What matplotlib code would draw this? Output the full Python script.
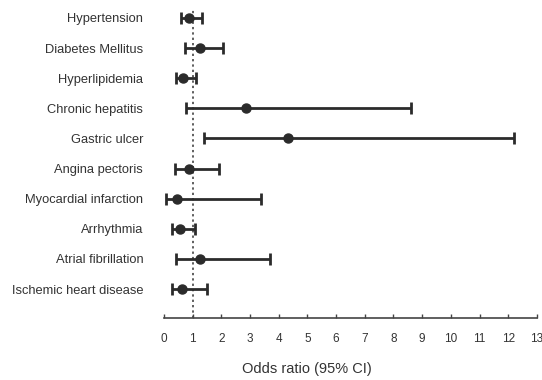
import matplotlib.pyplot as plt

plt.rcParams['font.family'] = ['Liberation Sans', 'DejaVu Sans']

# data (odds ratio with 95% CI)
conditions = ["Hypertension", "Diabetes Mellitus", "Hyperlipidemia",
              "Chronic hepatitis", "Gastric ulcer", "Angina pectoris",
              "Myocardial infarction", "Arrhythmia", "Atrial fibrillation",
              "Ischemic heart disease"]
odds = [0.87, 1.25, 0.67, 2.85, 4.33, 0.86, 0.44, 0.56, 1.25, 0.64]
ci_low = [0.59, 0.72, 0.41, 0.77, 1.39, 0.37, 0.07, 0.27, 0.41, 0.27]
ci_high = [1.32, 2.06, 1.10, 8.60, 12.20, 1.93, 3.37, 1.09, 3.69, 1.49]
xticks = list(range(0, 14))

fig = plt.figure(figsize=(5.42, 3.80), dpi=100)
ax = fig.add_axes([0.3026, 0.163, 0.688, 0.824])

ypos = list(range(len(conditions)))
err_lo = [o - l for o, l in zip(odds, ci_low)]
err_hi = [h - o for o, h in zip(odds, ci_high)]

ax.axvline(1, ymin=0, ymax=0.985, color='#333333', linestyle=(0, (1.5, 2)), lw=1.1, zorder=1)
ax.errorbar(odds, ypos, xerr=[err_lo, err_hi], fmt='o', color='#2b2b2b',
            ecolor='#2b2b2b', elinewidth=2, capsize=4, capthick=2,
            markersize=6.5, zorder=3)

ax.set_xlim(0, 13)
ax.set_ylim(9.96, -0.43)
ax.set_yticks(ypos)
ax.set_yticklabels(conditions, fontsize=9.3, color='#333333')
ax.set_xticks(xticks)
ax.set_xticklabels([str(t) for t in xticks], fontsize=8.5, color='#333333')

for s in ['left', 'right', 'top']:
    ax.spines[s].set_visible(False)
ax.spines['bottom'].set_color('#444444')
ax.spines['bottom'].set_linewidth(1.2)
ax.tick_params(axis='y', length=0, pad=15)
ax.tick_params(axis='x', direction='in', length=3, width=1, color='#444444', pad=11)

ax.set_xlabel("Odds ratio (95% CI)", fontsize=10.5, color='#333333')
ax.xaxis.set_label_coords(0.383, -0.14)

fig.savefig("out.png", dpi=100)
